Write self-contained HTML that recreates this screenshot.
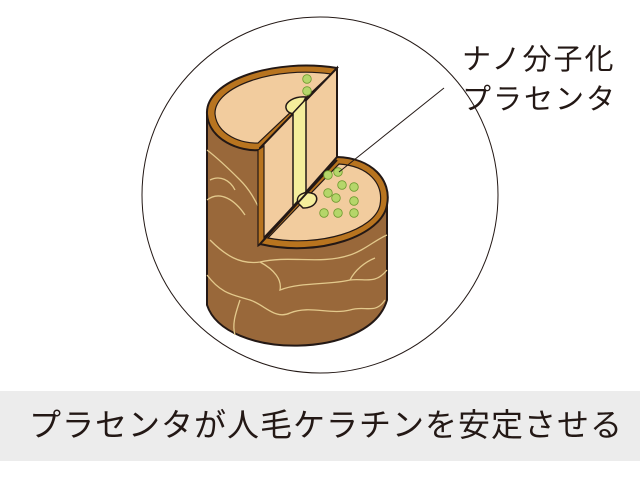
<!DOCTYPE html>
<html><head><meta charset="utf-8"><style>
html,body{margin:0;padding:0;background:#fff;}
body{width:640px;height:480px;position:relative;overflow:hidden;font-family:"Liberation Sans","Noto Sans CJK JP",sans-serif;}
.band{position:absolute;left:0;top:391px;width:640px;height:70px;background:#ececec;}
.band span{position:absolute;left:29px;top:10px;font-size:32px;letter-spacing:1px;color:#231815;font-weight:400;white-space:nowrap;line-height:48px;}
.lbl{position:absolute;left:462px;top:40px;font-size:29px;line-height:40px;color:#231815;font-weight:400;letter-spacing:2px;}
</style></head><body>
<svg width="640" height="480" style="position:absolute;left:0;top:0">
<circle cx="320" cy="195" r="178" fill="none" stroke="#231815" stroke-width="1"/>
<path d="M207,112 L207,305 C225,360 370,360 387,300 L387,203 L337,157 L337,68 Z" fill="#99683a" stroke="#231815" stroke-width="2"/>
<g fill="none" stroke="#e3c98c" stroke-width="1.3">
<path d="M207,150 C220,160 230,170 240,180 C250,190 255,200 260,210"/>
<path d="M207,200 C220,190 235,200 245,215"/>
<path d="M210,240 C225,255 240,265 260,262 C290,255 320,265 350,255 C365,250 375,240 387,235"/>
<path d="M260,262 C275,270 282,280 280,290 C300,282 330,285 350,280 C365,278 375,285 387,270"/>
<path d="M207,275 C222,295 235,295 250,300 C265,305 275,320 290,313 C310,305 330,315 350,310 C365,305 375,315 385,300"/>
<path d="M350,280 C355,270 365,262 375,258"/>
<path d="M240,300 C235,315 232,325 235,335"/>
<path d="M210,180 C220,175 230,180 235,190"/>
</g>
<path d="M337,68 C275,58 205,80 207,114 C209,140 240,152 260,150 Z" fill="#b8741f" stroke="#231815" stroke-width="2"/>
<path d="M331,74 C275,66 214,86 215,114 C217,135 242,144 258,143 Z" fill="#f2cc9e" stroke="#231815" stroke-width="1.2"/>
<path d="M260,148 L337,68 L337,160 L260,242 Z" fill="#f2cc9e" stroke="#231815" stroke-width="2"/>
<path d="M258,150 L264,146 L264,242 L258,246 Z" fill="#b8741f" stroke="#231815" stroke-width="1.2"/>
<path d="M306,97 C294,96 285,102 286,108 C287,113 293,115 298,113 Z" fill="#f5ee9c" stroke="#231815" stroke-width="1.5"/>
<path d="M293,113 L306,99 L306,195 L293,208 Z" fill="#f5ee9c" stroke="#231815" stroke-width="1.5"/>
<path d="M337,157 C372,158 392,180 387,205 C382,235 320,258 260,244 Z" fill="#b8741f" stroke="#231815" stroke-width="2"/>
<path d="M339,164 C368,166 384,183 380,205 C375,230 320,248 268,238 Z" fill="#f2cc9e" stroke="#231815" stroke-width="1.2"/>
<path d="M298,203 C295,195 305,190 314,194 C320,198 316,208 303,208 Z" fill="#f5ee9c" stroke="#231815" stroke-width="1.5"/>
<line x1="337" y1="160" x2="262" y2="242" stroke="#231815" stroke-width="2"/>
<g fill="#b5d66a" stroke="#6b9a2e" stroke-width="0.8">
<circle cx="307" cy="79" r="4.3"/><circle cx="307" cy="91" r="4.3"/>
<circle cx="328" cy="175" r="4.3"/><circle cx="338" cy="172" r="4.3"/>
<circle cx="342" cy="185" r="4.3"/><circle cx="354" cy="187" r="4.3"/>
<circle cx="328" cy="193" r="4.3"/><circle cx="336" cy="198" r="4.3"/>
<circle cx="354" cy="201" r="4.3"/><circle cx="324" cy="213" r="4.3"/>
<circle cx="338" cy="213" r="4.3"/><circle cx="354" cy="213" r="4.3"/>
</g>
<line x1="444" y1="88" x2="339" y2="172" stroke="#231815" stroke-width="1"/>
</svg>
<div class="lbl">ナノ分子化<br>プラセンタ</div>
<div class="band"><span>プラセンタが人毛ケラチンを安定させる</span></div>
</body></html>
